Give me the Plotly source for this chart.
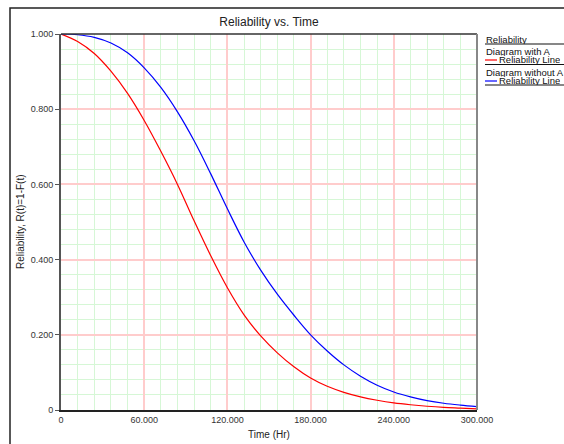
import plotly.graph_objects as go

# time points (Hr)
time = [0, 12, 24, 36, 48, 60, 72, 84, 96, 108, 120, 132, 144, 156, 168,
        180, 192, 204, 216, 228, 240, 252, 264, 276, 288, 300]
# Diagram with A
rel_with_a = [1.0, 0.980, 0.948, 0.901, 0.842, 0.770, 0.688, 0.600, 0.503, 0.410,
              0.325, 0.253, 0.197, 0.152, 0.115, 0.085, 0.063, 0.047, 0.035,
              0.026, 0.019, 0.014, 0.010, 0.007, 0.005, 0.003]
# Diagram without A
rel_without_a = [1.0, 0.998, 0.991, 0.976, 0.950, 0.910, 0.858, 0.793, 0.716, 0.628,
                 0.535, 0.447, 0.372, 0.308, 0.252, 0.200, 0.157, 0.120, 0.090,
                 0.066, 0.048, 0.035, 0.025, 0.018, 0.013, 0.009]

x_ticks = [0, 60, 120, 180, 240, 300]
x_labels = ["0", "60.000", "120.000", "180.000", "240.000", "300.000"]
y_ticks = [0, 0.2, 0.4, 0.6, 0.8, 1.0]
y_labels = ["0", "0.200", "0.400", "0.600", "0.800", "1.000"]

W, H = 564, 444
L, R, T, B = 61, 87, 34, 34
pw, ph = W - L - R, H - T - B


def px(x):
    return (x - L) / pw


def py(y):
    return (H - B - y) / ph


font = "Liberation Sans, Arial, sans-serif"

fig = go.Figure()
fig.add_trace(go.Scatter(x=time, y=rel_with_a, mode="lines", line_shape="spline",
                         line=dict(color="#ff0000", width=1.2), name="Diagram with A"))
fig.add_trace(go.Scatter(x=time, y=rel_without_a, mode="lines", line_shape="spline",
                         line=dict(color="#0000ff", width=1.2), name="Diagram without A"))

axis_common = dict(
    showgrid=True, gridcolor="#ffcccc", gridwidth=1.5, automargin=False,
    zeroline=False, tickfont=dict(family=font, size=9, color="#333"),
)
fig.update_xaxes(range=[0, 300], tickvals=x_ticks, ticktext=x_labels,
                 showline=True, linecolor="#222", linewidth=2, ticks="",
                 minor=dict(dtick=12, showgrid=True, gridcolor="#d6f7d6", gridwidth=1),
                 **axis_common)
fig.update_yaxes(range=[0, 1], tickvals=y_ticks, ticktext=y_labels,
                 showline=True, linecolor="#555", linewidth=2,
                 ticks="outside", ticklen=4, tickcolor="#555",
                 minor=dict(dtick=0.04, showgrid=True, gridcolor="#d6f7d6", gridwidth=1),
                 **axis_common)

shapes = [
    # outer frame
    dict(type="rect", xref="paper", yref="paper", x0=px(10), x1=px(570), y0=py(8), y1=py(450),
         line=dict(color="#222", width=1.5), layer="below"),
    # top / right border of plot
    dict(type="line", xref="paper", yref="paper", x0=0, x1=1, y0=1, y1=1,
         line=dict(color="#333", width=1.5)),
    dict(type="line", xref="paper", yref="paper", x0=1, x1=1, y0=0, y1=1,
         line=dict(color="#888", width=2)),
    # legend underlines
    dict(type="line", xref="paper", yref="paper", x0=px(485), x1=px(566), y0=py(44), y1=py(44),
         line=dict(color="#111", width=1.2)),
    dict(type="line", xref="paper", yref="paper", x0=px(485), x1=px(566), y0=py(64.5), y1=py(64.5),
         line=dict(color="#111", width=1.2)),
    dict(type="line", xref="paper", yref="paper", x0=px(485), x1=px(566), y0=py(85), y1=py(85),
         line=dict(color="#111", width=1.2)),
    # legend samples
    dict(type="line", xref="paper", yref="paper", x0=px(485), x1=px(497), y0=py(60), y1=py(60),
         line=dict(color="#ff0000", width=1.2)),
    dict(type="line", xref="paper", yref="paper", x0=px(485), x1=px(497), y0=py(81), y1=py(81),
         line=dict(color="#0000ff", width=1.2)),
]

legend_font = dict(family=font, size=9.5, color="#111")
leg = dict(xanchor="left", yanchor="middle", font=legend_font, height=9, borderpad=0)
annotations = [
    dict(text="Reliability", x=px(485), y=py(39), **leg),
    dict(text="Diagram with A", x=px(485), y=py(51), **leg),
    dict(text="Reliability Line", x=px(498), y=py(59.5), **leg),
    dict(text="Diagram without A", x=px(485), y=py(72), **leg),
    dict(text="Reliability Line", x=px(498), y=py(80.5), **leg),
    # axis titles
    dict(text="Time (Hr)", x=px(269), y=py(434), xanchor="center", yanchor="middle",
         font=dict(family=font, size=10, color="#222")),
    dict(text="Reliability, R(t)=1-F(t)", x=px(20), y=py(222), xanchor="center", yanchor="middle",
         textangle=-90, font=dict(family=font, size=10, color="#222")),
]
for a in annotations:
    a.update(xref="paper", yref="paper", showarrow=False)

fig.update_layout(
    width=W, height=H,
    margin=dict(l=L, r=R, t=T, b=B),
    paper_bgcolor="white", plot_bgcolor="white",
    showlegend=False,
    title=dict(text="Reliability vs. Time", x=px((L + W - R) / 2), xref="paper",
               y=1 - 22 / H, yref="container",
               xanchor="center", yanchor="middle",
               font=dict(family=font, size=12, color="#222")),
    shapes=shapes,
    annotations=annotations,
)

fig.write_html("out.html", config={"displayModeBar": False},
               post_script="document.body.style.margin='0';document.body.style.overflow='hidden';")
